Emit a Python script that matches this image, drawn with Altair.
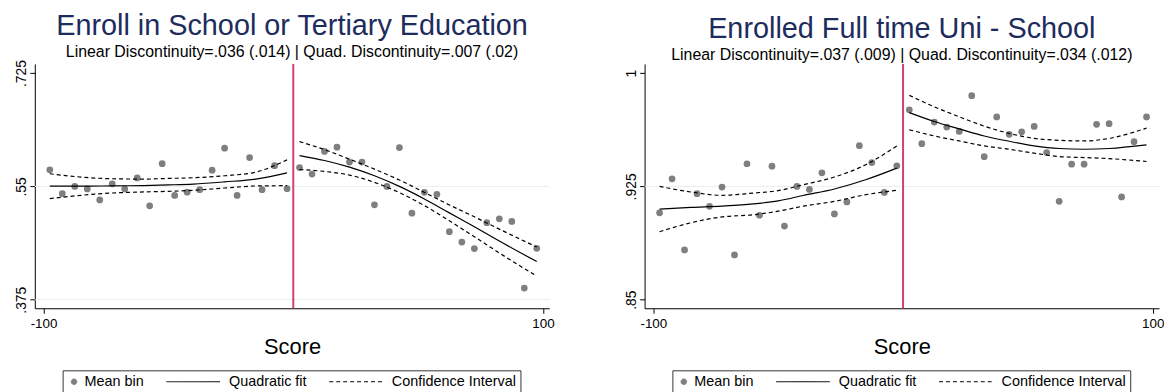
import altair as alt
import pandas as pd

FONT = "Liberation Sans"

# ---------------- data ----------------
bin_scores = [-97.5, -92.5, -87.5, -82.5, -77.5, -72.5, -67.5, -62.5, -57.5, -52.5,
              -47.5, -42.5, -37.5, -32.5, -27.5, -22.5, -17.5, -12.5, -7.5, -2.5,
              2.5, 7.5, 12.5, 17.5, 22.5, 27.5, 32.5, 37.5, 42.5, 47.5,
              52.5, 57.5, 62.5, 67.5, 72.5, 77.5, 82.5, 87.5, 92.5, 97.5]

enroll_bins = [0.5756, 0.5388, 0.550, 0.546, 0.529, 0.554, 0.546, 0.563, 0.520, 0.585,
               0.536, 0.541, 0.545, 0.575, 0.609, 0.536, 0.5945, 0.545, 0.582, 0.5465,
               0.579, 0.569, 0.604, 0.6105, 0.5875, 0.5875, 0.5215, 0.550, 0.610, 0.5086,
               0.5408, 0.5377, 0.480, 0.464, 0.454, 0.494, 0.500, 0.4958, 0.393, 0.4544]

fulltime_bins = [0.9075, 0.930, 0.8829, 0.9202, 0.9118, 0.9246, 0.8796, 0.940, 0.9059, 0.9384,
                 0.8987, 0.925, 0.923, 0.934, 0.9068, 0.9147, 0.952, 0.9408, 0.921, 0.9386,
                 0.9757, 0.9533, 0.9676, 0.9643, 0.9614, 0.9851, 0.9447, 0.971, 0.9595, 0.9612,
                 0.9647, 0.9474, 0.9151, 0.9397, 0.9397, 0.9661, 0.9665, 0.918, 0.9546, 0.971]

fit_x_left = [-97.5, -85, -72.5, -60, -50, -40, -27.5, -15, -2.5]
fit_x_right = [2.5, 12.5, 22.5, 32.5, 42.5, 52.5, 62.5, 72.5, 82.5, 97.5]

enroll_fit_left = [0.5503, 0.5503, 0.5508, 0.5513, 0.5523, 0.5536, 0.557, 0.5613, 0.5710]
enroll_up_left = [0.5695, 0.5644, 0.5618, 0.5613, 0.5623, 0.5634, 0.5664, 0.5721, 0.591]
enroll_lo_left = [0.5311, 0.5362, 0.5398, 0.5414, 0.5424, 0.5439, 0.5475, 0.5506, 0.5511]
enroll_fit_right = [0.5976, 0.5900, 0.5797, 0.5664, 0.5500, 0.5306, 0.5091, 0.4876, 0.4656, 0.4339]
enroll_up_right = [0.6191, 0.6068, 0.5920, 0.5767, 0.5598, 0.5408, 0.5214, 0.5030, 0.4840, 0.4564]
enroll_lo_right = [0.5761, 0.5731, 0.5675, 0.5562, 0.5403, 0.5204, 0.4968, 0.4723, 0.4472, 0.4114]

full_fit_left = [0.9100, 0.9111, 0.9120, 0.9134, 0.9154, 0.9190, 0.9233, 0.9294, 0.9371]
full_up_left = [0.925, 0.9213, 0.9191, 0.9206, 0.9222, 0.9261, 0.9312, 0.9393, 0.9518]
full_lo_left = [0.8950, 0.9009, 0.9048, 0.9062, 0.9086, 0.9119, 0.9151, 0.9195, 0.9224]
full_fit_right = [0.9739, 0.9680, 0.9631, 0.9584, 0.9549, 0.9519, 0.9501, 0.9496, 0.9501, 0.9525]
full_up_right = [0.9853, 0.9777, 0.9711, 0.9649, 0.9601, 0.9568, 0.9555, 0.9551, 0.9568, 0.9636]
full_lo_right = [0.9625, 0.9584, 0.9551, 0.9518, 0.9496, 0.9470, 0.9448, 0.9441, 0.9434, 0.9415]

x_ticks = [-100, 100]
enroll_y_ticks = [0.375, 0.55, 0.725]
full_y_ticks = [0.85, 0.925, 1.0]
enroll_grid = [0.375, 0.55]
full_grid = [0.925]
cutoff = [0]

series_names = ["Mean bin", "Quadratic fit", "Confidence Interval"]
series_colors = ["#7f7f7f", "#000000", "#000000"]

titles = ["Enroll in School or Tertiary Education", "Enrolled Full time Uni - School"]
subtitles = ["Linear Discontinuity=.036 (.014) | Quad. Discontinuity=.007 (.02)",
             "Linear Discontinuity=.037 (.009) | Quad. Discontinuity=.034 (.012)"]

# ---------------- helpers ----------------
def line_frame(fl, ul, ll, fr, ur, lr):
    rows = []
    for seg, xs, vals, s in [("fitL", fit_x_left, fl, "Quadratic fit"),
                             ("fitR", fit_x_right, fr, "Quadratic fit"),
                             ("upL", fit_x_left, ul, "Confidence Interval"),
                             ("loL", fit_x_left, ll, "Confidence Interval"),
                             ("upR", fit_x_right, ur, "Confidence Interval"),
                             ("loR", fit_x_right, lr, "Confidence Interval")]:
        for x, v in zip(xs, vals):
            rows.append({"score": x, "value": v, "series": s, "seg": seg})
    return pd.DataFrame(rows)


DOT_PATH = "M0.4,0A0.4,0.4,0,1,1,-0.4,0A0.4,0.4,0,1,1,0.4,0Z"
LINE_PATH = "M-1,0H6.71"

legend = alt.Legend(
    orient="none", legendX=28, legendY=308.5,
    direction="horizontal", title=None,
    labelFont=FONT, labelFontSize=14.5, labelColor="black",
    labelOffset=alt.ExprRef(expr="datum.value == 'Mean bin' ? 3 : 48.5"),
    columnPadding=20, padding=4, strokeColor="#333333",
    symbolType=alt.ExprRef(expr="datum.value == 'Mean bin' ? '" + DOT_PATH + "' : '" + LINE_PATH + "'"),
    symbolSize=196,
    symbolFillColor=alt.ExprRef(expr="datum.value == 'Mean bin' ? '#7f7f7f' : 'transparent'"),
    symbolStrokeColor=alt.ExprRef(expr="datum.value == 'Mean bin' ? 'transparent' : '#000000'"),
    symbolDash=alt.ExprRef(expr="datum.value == 'Confidence Interval' ? [4, 3] : [1, 0]"),
    symbolStrokeWidth=1,
    symbolOpacity=1,
)


def panel(title, subtitle, bins, lines, y_domain, y_ticks, grid_vals):
    xs = alt.Scale(domain=[-103.5, 102.5], nice=False, zero=False)
    ys = alt.Scale(domain=y_domain, nice=False, zero=False)
    color_scale = alt.Scale(domain=series_names, range=series_colors)

    pts = pd.DataFrame({"score": bin_scores, "value": bins, "series": "Mean bin"})

    x_axis = alt.Axis(values=x_ticks, grid=False, tickSize=5, labelFontSize=13.5,
                      labelFont=FONT, labelColor="black", labelPadding=3,
                      labelExpr="datum.value + ''", labelFlush=False,
                      title="Score", titleFont=FONT, titleFontSize=22,
                      titleFontWeight="normal", titleColor="black", titlePadding=7,
                      domainColor="black", tickColor="black")
    y_axis = alt.Axis(values=y_ticks, grid=False, tickSize=5, labelFontSize=14,
                      labelFont=FONT, labelColor="black", labelPadding=4,
                      labelAngle=270, labelAlign="center", labelBaseline="alphabetic",
                      labelExpr="replace(format(datum.value, '.3~f'), '0.', '.')",
                      labelFlush=False, labelOverlap=False,
                      title=None, domainColor="black", tickColor="black")

    grid = alt.Chart(pd.DataFrame({"value": grid_vals})).mark_rule(
        color="#e6eef1", strokeWidth=1).encode(
        y=alt.Y("value:Q", scale=ys, axis=y_axis))

    points = alt.Chart(pts).mark_circle(size=46, opacity=1).encode(
        x=alt.X("score:Q", scale=xs, axis=x_axis),
        y=alt.Y("value:Q", scale=ys, axis=y_axis),
        color=alt.Color("series:N", scale=color_scale, legend=legend),
    )

    cut = alt.Chart(pd.DataFrame({"score": cutoff})).mark_rule(
        color="#d2406b", strokeWidth=2).encode(
        x=alt.X("score:Q", scale=xs, axis=x_axis))

    fit = alt.Chart(lines).transform_filter(
        alt.datum.series == "Quadratic fit").mark_line(
        strokeWidth=1.2, interpolate="monotone").encode(
        x=alt.X("score:Q", scale=xs, axis=x_axis),
        y=alt.Y("value:Q", scale=ys, axis=y_axis),
        color=alt.Color("series:N", scale=color_scale, legend=legend),
        detail="seg:N",
    )

    ci = alt.Chart(lines).transform_filter(
        alt.datum.series == "Confidence Interval").mark_line(
        strokeWidth=1.2, strokeDash=[4, 3], interpolate="monotone").encode(
        x=alt.X("score:Q", scale=xs, axis=x_axis),
        y=alt.Y("value:Q", scale=ys, axis=y_axis),
        color=alt.Color("series:N", scale=color_scale, legend=legend),
        detail="seg:N",
    )

    return alt.layer(grid, points, cut, fit, ci).properties(
        width=518, height=246,
        title=alt.TitleParams(text=title, subtitle=subtitle, font=FONT,
                              fontSize=29, fontWeight="normal", color="#1d2c5c",
                              subtitleFont=FONT, subtitleFontSize=16,
                              subtitleColor="black", subtitlePadding=3,
                              anchor="middle", offset=0),
    )


left = panel(titles[0], subtitles[0], enroll_bins,
             line_frame(enroll_fit_left, enroll_up_left, enroll_lo_left,
                        enroll_fit_right, enroll_up_right, enroll_lo_right),
             [0.3618, 0.7391], enroll_y_ticks, enroll_grid)
right = panel(titles[1], subtitles[1], fulltime_bins,
              line_frame(full_fit_left, full_up_left, full_lo_left,
                         full_fit_right, full_up_right, full_lo_right),
              [0.8443, 1.0061], full_y_ticks, full_grid)

chart = alt.hconcat(left, right, spacing=70).resolve_scale(
    color="independent").properties(
    padding={"left": 6, "top": 2, "right": 0, "bottom": 0},
    background="white",
).configure_view(stroke=None)

chart.save("out.html", embed_options={"renderer": "svg", "actions": False})
